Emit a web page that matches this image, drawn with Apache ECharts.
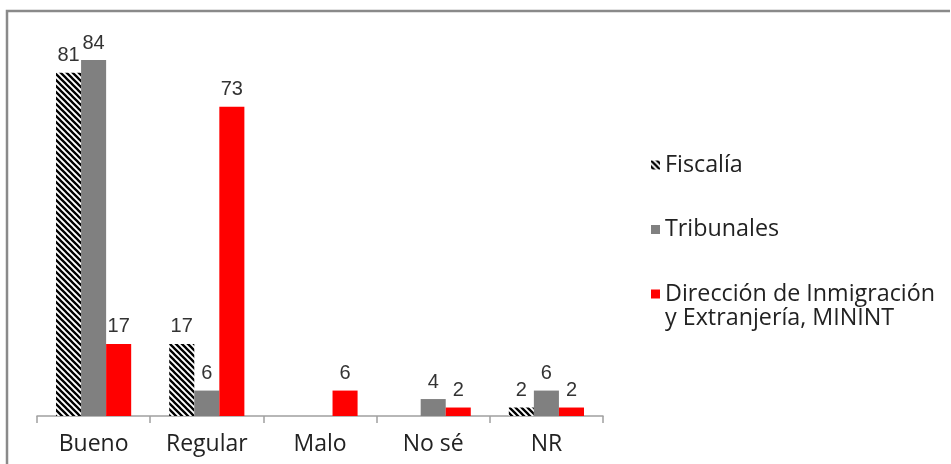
<!DOCTYPE html>
<html>
<head>
<meta charset="utf-8">
<script src="https://cdn.jsdelivr.net/npm/echarts@6/dist/echarts.min.js"></script>
<style>
html,body{margin:0;padding:0;background:#fff;}
#chart{width:951px;height:464px;}
</style>
</head>
<body>
<div id="chart"></div>
<script>
const categories = ['Bueno', 'Regular', 'Malo', 'No sé', 'NR'];
const seriesNames = ['Fiscalía', 'Tribunales', 'Dirección de Inmigración\ny Extranjería, MININT'];
const fiscalia = [81, 17, null, null, 2];
const tribunales = [84, 6, null, 4, 6];
const direccion = [17, 73, 6, 2, 2];

function hatch() {
  const c = document.createElement('canvas');
  c.width = 6; c.height = 6;
  const g = c.getContext('2d');
  g.fillStyle = '#fff';
  g.fillRect(0, 0, 6, 6);
  g.strokeStyle = '#000';
  g.lineWidth = 2.3;
  g.beginPath();
  g.moveTo(-1, -1); g.lineTo(7, 7);
  g.moveTo(-1, 5); g.lineTo(1, 7);
  g.moveTo(5, -1); g.lineTo(7, 1);
  g.stroke();
  return c;
}

const chart = echarts.init(document.getElementById('chart'), null, {renderer: 'canvas'});
const labelStyle = {
  show: true, position: 'top', distance: 7,
  color: '#333', fontFamily: 'Liberation Sans', fontSize: 20
};
chart.setOption({
  animation: false,
  graphic: [{
    type: 'polyline',
    shape: {points: [[7, 470], [7, 11], [950, 11]]},
    style: {stroke: '#8a8a8a', lineWidth: 2.5, fill: null}
  }],
  grid: {left: 37, right: 348, top: 34.6, bottom: 48},
  legend: {
    orient: 'vertical', left: 646, top: 124,
    itemWidth: 9, itemHeight: 9, itemGap: 16.5,
    icon: 'rect',
    textStyle: {fontFamily: 'Open Sans', fontSize: 23.3, color: '#222', lineHeight: 24},
    data: seriesNames,
    formatter: function (name) {
      if (name === seriesNames[0]) return '\n' + name + '\n';
      if (name === seriesNames[2]) return '\n' + name;
      return name;
    }
  },
  xAxis: {
    type: 'category', data: categories,
    axisLine: {lineStyle: {color: '#a0a0a0', width: 1.5}},
    axisTick: {show: true, length: 7, lineStyle: {color: '#a0a0a0', width: 1.5}},
    axisLabel: {fontFamily: 'Open Sans', fontSize: 23, color: '#222', margin: 17}
  },
  yAxis: {
    type: 'value', min: 0, max: 90, show: false,
    splitLine: {show: false}
  },
  series: [
    {name: seriesNames[0], type: 'bar', data: fiscalia, barGap: 0, barCategoryGap: '33.6%',
     itemStyle: {color: {image: hatch(), repeat: 'repeat'}}, label: labelStyle},
    {name: seriesNames[1], type: 'bar', data: tribunales, barGap: 0, barCategoryGap: '33.6%',
     itemStyle: {color: '#808080'}, label: labelStyle},
    {name: seriesNames[2], type: 'bar', data: direccion, barGap: 0, barCategoryGap: '33.6%',
     itemStyle: {color: '#ff0000'}, label: labelStyle}
  ]
});
</script>
</body>
</html>
